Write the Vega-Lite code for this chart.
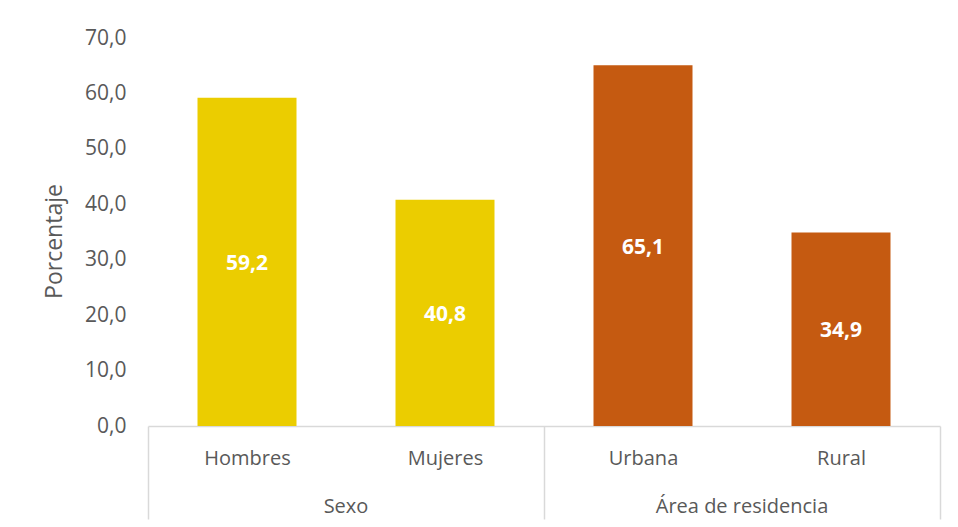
{
  "$schema": "https://vega.github.io/schema/vega-lite/v6.json",
  "width": 792,
  "height": 388,
  "autosize": {"type": "none"},
  "padding": {"left": 148, "top": 38, "right": 18, "bottom": 101},
  "background": "white",
  "config": {
    "locale": {"number": {"decimal": ",", "thousands": ".", "grouping": [3], "currency": ["", " €"]}},
    "view": {"stroke": null},
    "font": "Open Sans"
  },
  "layer": [
    {
      "data": {
        "values": [
          {"categoria": "Hombres", "grupo": "Sexo", "valor": 59.2},
          {"categoria": "Mujeres", "grupo": "Sexo", "valor": 40.8},
          {"categoria": "Urbana", "grupo": "Área de residencia", "valor": 65.1},
          {"categoria": "Rural", "grupo": "Área de residencia", "valor": 34.9}
        ]
      },
      "encoding": {
        "x": {
          "field": "categoria",
          "type": "nominal",
          "sort": null,
          "scale": {"paddingInner": 0, "paddingOuter": 0},
          "axis": {
            "title": null,
            "labelAngle": 0,
            "labelFontSize": 20,
            "labelColor": "#595959",
            "labelPadding": -71,
            "domainColor": "#D9D9D9",
            "domainWidth": 1.5,
            "tickBand": "extent",
            "tickSize": 93,
            "tickColor": "#D9D9D9",
            "tickWidth": 1.5,
            "tickOpacity": {"condition": {"test": "datum.value === 'Hombres' || datum.value === 'Urbana'", "value": 0}, "value": 1}
          }
        }
      },
      "layer": [
        {
          "mark": {"type": "bar", "width": {"band": 0.5}},
          "encoding": {
            "y": {
              "field": "valor",
              "type": "quantitative",
              "title": "Porcentaje",
              "scale": {"domain": [0, 70]},
              "axis": {
                "values": [0, 10, 20, 30, 40, 50, 60, 70],
                "format": ".1f",
                "grid": false,
                "domain": false,
                "ticks": false,
                "labelFontSize": 21,
                "labelColor": "#595959",
                "labelPadding": 22,
                "titleFontSize": 23,
                "titleFontWeight": "normal",
                "titleColor": "#595959",
                "titlePadding": 18,
                "titleY": 203
              }
            },
            "color": {
              "field": "grupo",
              "type": "nominal",
              "scale": {"domain": ["Sexo", "Área de residencia"], "range": ["#EBCD00", "#C55A11"]},
              "legend": null
            }
          }
        },
        {
          "transform": [{"calculate": "datum.valor / 2", "as": "mitad"}],
          "mark": {"type": "text", "color": "white", "fontWeight": "bold", "fontSize": 21, "dy": 2},
          "encoding": {
            "y": {"field": "mitad", "type": "quantitative", "title": "Porcentaje"},
            "text": {"field": "valor", "type": "quantitative", "format": ".1f"}
          }
        }
      ]
    },
    {
      "data": {"values": [{"grupo": "Sexo"}, {"grupo": "Área de residencia"}]},
      "mark": {"type": "rule", "opacity": 0},
      "encoding": {
        "x": {
          "field": "grupo",
          "type": "nominal",
          "sort": null,
          "scale": {"paddingInner": 0, "paddingOuter": 0},
          "axis": {
            "orient": "bottom",
            "title": null,
            "labelAngle": 0,
            "domain": false,
            "ticks": false,
            "labelFontSize": 20,
            "labelColor": "#595959",
            "labelPadding": 0,
            "offset": 70
          }
        }
      }
    }
  ],
  "resolve": {"scale": {"x": "independent"}}
}
